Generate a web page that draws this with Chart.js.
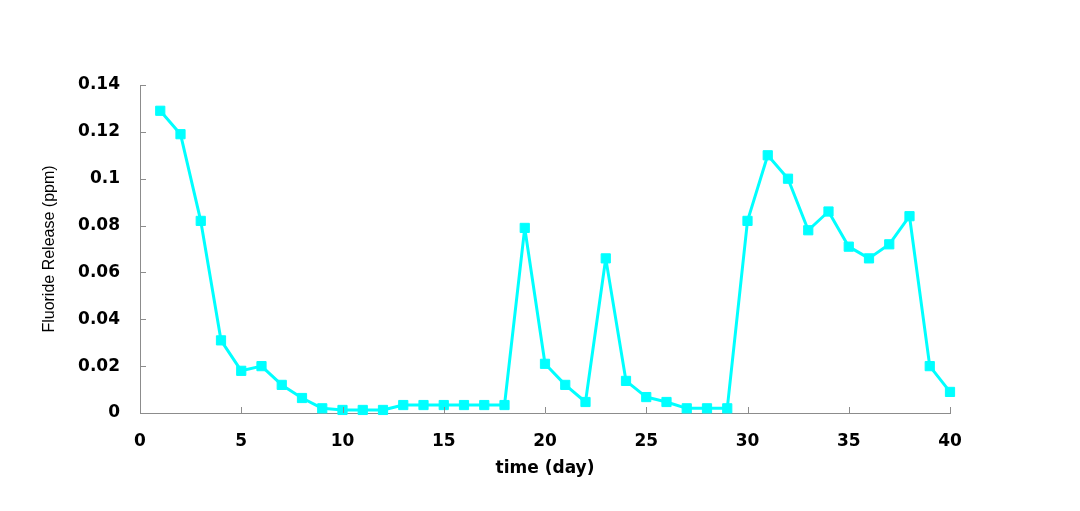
<!DOCTYPE html>
<html lang="en">
<head>
    <meta charset="UTF-8">
    <title>Fluoride Release</title>
    <script src="https://cdn.jsdelivr.net/npm/chart.js"></script>
    <style>
        html, body { margin: 0; padding: 0; background: #fff; }
        #wrap { width: 1080px; height: 511px; }
    </style>
</head>
<body>
    <div id="wrap"><canvas id="chart"></canvas></div>
    <script>
        // days 1..40
        const days = [1, 2, 3, 4, 5, 6, 7, 8, 9, 10,
                      11, 12, 13, 14, 15, 16, 17, 18, 19, 20,
                      21, 22, 23, 24, 25, 26, 27, 28, 29, 30,
                      31, 32, 33, 34, 35, 36, 37, 38, 39, 40];
        const fluoride = [0.129, 0.119, 0.082, 0.031, 0.018, 0.020, 0.012, 0.0064, 0.002, 0.0013,
                          0.0013, 0.0013, 0.0034, 0.0034, 0.0034, 0.0034, 0.0034, 0.0034, 0.079, 0.021,
                          0.012, 0.0047, 0.066, 0.0137, 0.0068, 0.0047, 0.002, 0.002, 0.002, 0.082,
                          0.110, 0.100, 0.078, 0.086, 0.071, 0.066, 0.072, 0.084, 0.020, 0.009];
        const yTickLabels = ['0', '0.02', '0.04', '0.06', '0.08', '0.1', '0.12', '0.14'];

        const axisGray = '#8c8c8c';
        const tickFont = { family: 'DejaVu Sans', size: 17, weight: 'bold' };

        // tick marks drawn inward from the axis lines
        const innerTicks = {
            id: 'innerTicks',
            afterDraw(chart) {
                const ctx = chart.ctx;
                const area = chart.chartArea;
                const xs = chart.scales.x, ys = chart.scales.y;
                ctx.save();
                ctx.strokeStyle = axisGray;
                ctx.lineWidth = 1;
                ctx.beginPath();
                xs.ticks.forEach(t => {
                    const px = Math.round(xs.getPixelForValue(t.value)) + 0.5;
                    ctx.moveTo(px, area.bottom);
                    ctx.lineTo(px, area.bottom - 6);
                });
                ys.ticks.forEach(t => {
                    const py = Math.round(ys.getPixelForValue(t.value)) + 0.5;
                    ctx.moveTo(area.left, py);
                    ctx.lineTo(area.left + 6, py);
                });
                ctx.stroke();
                ctx.restore();
            }
        };

        new Chart(document.getElementById('chart'), {
            type: 'line',
            data: {
                labels: days,
                datasets: [{
                    label: 'Fluoride Release',
                    data: days.map((d, i) => ({ x: d, y: fluoride[i] })),
                    borderColor: '#00ffff',
                    backgroundColor: '#00ffff',
                    borderWidth: 3,
                    borderJoinStyle: 'round',
                    pointStyle: 'rect',
                    pointRadius: 6.5,
                    pointHoverRadius: 6.5,
                    pointBorderWidth: 1,
                    tension: 0,
                    clip: false
                }]
            },
            options: {
                responsive: true,
                maintainAspectRatio: false,
                animation: false,
                layout: { padding: { left: 36, right: 130, top: 85, bottom: 32 } },
                plugins: {
                    legend: { display: false },
                    tooltip: { enabled: false }
                },
                scales: {
                    x: {
                        type: 'linear',
                        min: 0,
                        max: 40,
                        afterFit: s => { s.height = 66; },
                        grid: { display: true, drawOnChartArea: false, drawTicks: false },
                        border: { display: true, color: axisGray, width: 1 },
                        ticks: { stepSize: 5, color: '#000', font: tickFont, padding: 18, maxRotation: 0 },
                        title: {
                            display: true,
                            text: 'time (day)',
                            color: '#000',
                            font: { family: 'DejaVu Sans', size: 17, weight: 'bold' },
                            padding: { top: 4, bottom: 0 }
                        }
                    },
                    y: {
                        min: 0,
                        max: 0.14,
                        afterFit: s => { s.width = 104; },
                        grid: { display: true, drawOnChartArea: false, drawTicks: false },
                        border: { display: true, color: axisGray, width: 1 },
                        ticks: {
                            stepSize: 0.02,
                            color: '#000',
                            font: tickFont,
                            padding: 20,
                            callback: (v, i) => yTickLabels[i]
                        },
                        title: {
                            display: true,
                            text: 'Fluoride Release (ppm)',
                            color: '#000',
                            font: { family: 'Liberation Sans', size: 16 },
                            padding: { top: 4, bottom: 4 }
                        }
                    }
                }
            },
            plugins: [innerTicks]
        });
    </script>
</body>
</html>
